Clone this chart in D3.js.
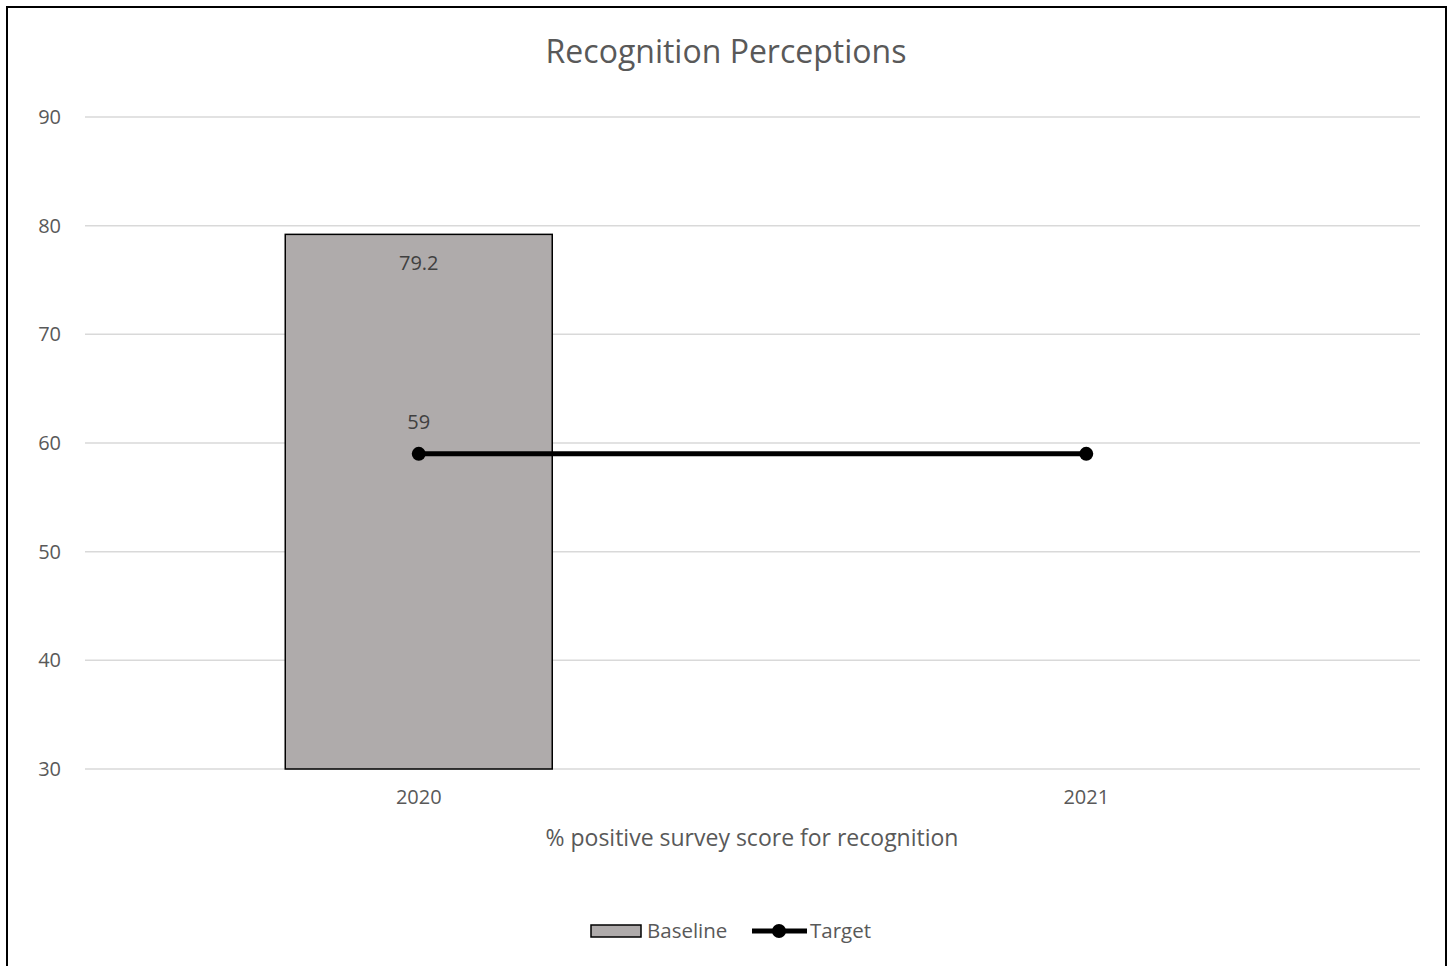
<!DOCTYPE html>
<html>
<head>
<meta charset="utf-8">
<script src="https://cdn.jsdelivr.net/npm/d3@7"></script>
<style>
  body { margin: 0; background: #fff; }
  svg { display: block; font-family: "Open Sans", sans-serif; }
</style>
</head>
<body>
<svg id="chart" width="1450" height="966"></svg>
<script>
// chart data
var categories = ["2020", "2021"];
var baseline = [79.2, null];
var target = [59, 59];
var yTicks = [30, 40, 50, 60, 70, 80, 90];
var chartTitle = "Recognition Perceptions";
var xTitle = "% positive survey score for recognition";

var svg = d3.select("#chart");
var W = 1450, H = 966;
var margin = { top: 117, right: 30, bottom: 198, left: 85 };

// outer frame (bottom edge runs off the page)
svg.append("rect")
    .attr("x", 7).attr("y", 7)
    .attr("width", 1439).attr("height", 980)
    .attr("fill", "none").attr("stroke", "#000").attr("stroke-width", 2);

var x = d3.scaleBand().domain(categories).range([margin.left, W - margin.right]);
var y = d3.scaleLinear().domain([30, 90]).range([H - margin.bottom + 1, margin.top]);

// gridlines
svg.append("g").selectAll("line")
    .data(yTicks)
    .enter().append("line")
    .attr("x1", margin.left).attr("x2", W - margin.right)
    .attr("y1", d => y(d)).attr("y2", d => y(d))
    .attr("stroke", "#d9d9d9").attr("stroke-width", 1.5);

// y axis labels
var yAxis = svg.append("g")
    .attr("transform", `translate(${margin.left},0)`)
    .call(d3.axisLeft(y).tickValues(yTicks).tickSize(0).tickPadding(24));
yAxis.select(".domain").remove();
yAxis.selectAll("text").attr("fill", "#595959").style("font-size", "20px").style("font-family", "Open Sans");

// x axis labels
var xAxis = svg.append("g")
    .attr("transform", `translate(0,${y(30)})`)
    .call(d3.axisBottom(x).tickSize(0).tickPadding(21));
xAxis.select(".domain").remove();
xAxis.selectAll("text").attr("fill", "#595959").style("font-size", "20px").style("font-family", "Open Sans");

// bars
var barW = x.bandwidth() * 0.4;
svg.append("g").selectAll("rect")
    .data(categories.map((c, i) => ({ c: c, v: baseline[i] })).filter(d => d.v != null))
    .enter().append("rect")
    .attr("x", d => x(d.c) + x.bandwidth() / 2 - barW / 2)
    .attr("y", d => y(d.v))
    .attr("width", barW)
    .attr("height", d => y(30) - y(d.v))
    .attr("fill", "#afabab").attr("stroke", "#000").attr("stroke-width", 1.5);

svg.append("g").selectAll("text")
    .data(categories.map((c, i) => ({ c: c, v: baseline[i] })).filter(d => d.v != null))
    .enter().append("text")
    .attr("x", d => x(d.c) + x.bandwidth() / 2)
    .attr("y", d => y(d.v) + 36)
    .attr("text-anchor", "middle")
    .attr("fill", "#404040").style("font-size", "20px")
    .text(d => d.v);

// target line
var tData = categories.map((c, i) => ({ c: c, v: target[i] }));
var line = d3.line().x(d => x(d.c) + x.bandwidth() / 2).y(d => y(d.v));
svg.append("path")
    .datum(tData)
    .attr("d", line)
    .attr("fill", "none").attr("stroke", "#000").attr("stroke-width", 5);
svg.append("g").selectAll("circle")
    .data(tData)
    .enter().append("circle")
    .attr("cx", d => x(d.c) + x.bandwidth() / 2)
    .attr("cy", d => y(d.v))
    .attr("r", 7).attr("fill", "#000");
svg.append("text")
    .attr("x", x(categories[0]) + x.bandwidth() / 2)
    .attr("y", y(target[0]) - 25)
    .attr("text-anchor", "middle")
    .attr("fill", "#404040").style("font-size", "20px")
    .text(target[0]);

// titles
svg.append("text")
    .attr("x", 726).attr("y", 63)
    .attr("text-anchor", "middle")
    .attr("fill", "#595959").style("font-size", "32px")
    .text(chartTitle);
svg.append("text")
    .attr("x", 752).attr("y", 846)
    .attr("text-anchor", "middle")
    .attr("fill", "#595959").style("font-size", "23px")
    .text(xTitle);

// legend
var leg = svg.append("g");
leg.append("rect")
    .attr("x", 591).attr("y", 925).attr("width", 50).attr("height", 12)
    .attr("fill", "#afabab").attr("stroke", "#000").attr("stroke-width", 1.5);
leg.append("text")
    .attr("x", 647).attr("y", 938)
    .attr("fill", "#595959").style("font-size", "20.5px")
    .text("Baseline");
leg.append("line")
    .attr("x1", 752).attr("x2", 807).attr("y1", 931).attr("y2", 931)
    .attr("stroke", "#000").attr("stroke-width", 5);
leg.append("circle")
    .attr("cx", 779).attr("cy", 931).attr("r", 7).attr("fill", "#000");
leg.append("text")
    .attr("x", 810).attr("y", 938)
    .attr("fill", "#595959").style("font-size", "20.5px")
    .text("Target");
</script>
</body>
</html>
